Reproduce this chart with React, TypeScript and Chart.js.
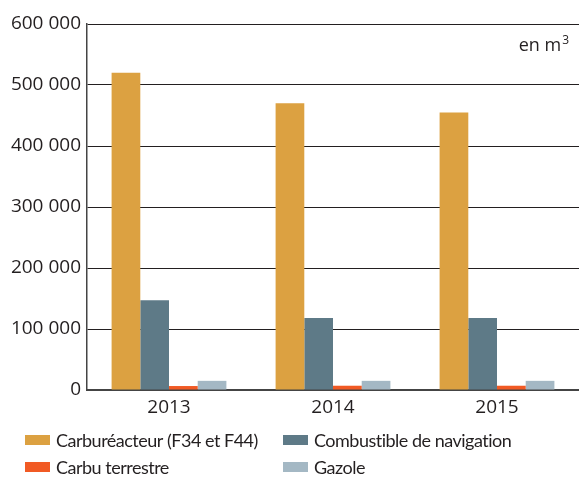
import React, { useEffect, useRef } from "react";
import { Chart, registerables } from "chart.js";

Chart.register(...registerables);

const categories = ["2013", "2014", "2015"];
const carbureacteur = [520000, 470000, 455000];
const combustible = [147000, 118000, 118000];
const carbuTerrestre = [6500, 7000, 7000];
const gazole = [15000, 15000, 15000];
const seriesLabels = [
  "Carburéacteur (F34 et F44)",
  "Combustible de navigation",
  "Carbu terrestre",
  "Gazole",
];
const seriesColors = ["#dca141", "#5e7a87", "#f15a24", "#a4b8c4"];
const unitLabel = "en m";
const unitSup = "3";

const FONT = '"Open Sans", "Noto Sans", sans-serif';
const LEGEND_FONT = 'Lato, "Open Sans", sans-serif';
const TEXT = "#231f20";

const fmt = (v: number) =>
  String(Math.round(v)).replace(/\B(?=(\d{3})+(?!\d))/g, " ");

const gridLegend = {
  id: "gridLegend",
  afterDraw(chart: any) {
    const ctx = chart.ctx;
    const cols = [25, 283];
    const rows = [440, 467];
    ctx.save();
    chart.data.datasets.forEach((ds: any, i: number) => {
      const x = cols[i % 2];
      const y = rows[Math.floor(i / 2)];
      ctx.fillStyle = ds.backgroundColor;
      ctx.fillRect(x, y - 5, 25, 10);
      ctx.fillStyle = TEXT;
      ctx.font = `18px ${LEGEND_FONT}`;
      try {
        (ctx as any).letterSpacing = "-0.5px";
      } catch (e) {}
      ctx.textBaseline = "middle";
      ctx.textAlign = "left";
      ctx.fillText(ds.label, x + 31, y + 1);
      try {
        (ctx as any).letterSpacing = "0px";
      } catch (e) {}
    });
    // unit label
    const right = chart.chartArea.right - 10;
    ctx.font = `12px ${FONT}`;
    const supW = ctx.measureText(unitSup).width;
    ctx.textBaseline = "alphabetic";
    ctx.fillText(unitSup, right - supW, 44);
    ctx.font = `18px ${FONT}`;
    const w = ctx.measureText(unitLabel).width;
    ctx.fillText(unitLabel, right - supW - 1 - w, 51);
    ctx.restore();
  },
};

export default function App() {
  const ref = useRef<HTMLCanvasElement>(null);
  useEffect(() => {
    document.body.style.margin = "0";
    const values = [carbureacteur, combustible, carbuTerrestre, gazole];
    const chart = new Chart(ref.current!, {
      type: "bar",
      data: {
        labels: categories,
        datasets: values.map((d, i) => ({
          label: seriesLabels[i],
          data: d,
          backgroundColor: seriesColors[i],
          borderWidth: 0,
          barPercentage: 1,
          categoryPercentage: 0.7,
        })),
      },
      options: {
        responsive: false,
        animation: false,
        devicePixelRatio: 1,
        layout: { padding: { top: 24, right: 0, bottom: 0, left: 0 } },
        plugins: { legend: { display: false }, tooltip: { enabled: false } },
        scales: {
          x: {
            grid: { display: false, drawTicks: false },
            border: { display: true, color: "#444", width: 2 },
            ticks: {
              color: TEXT,
              font: { family: FONT, size: 19 },
              padding: 6,
            },
            afterFit: (s: any) => {
              s.height = 87;
            },
          },
          y: {
            min: 0,
            max: 600000,
            ticks: {
              stepSize: 100000,
              color: TEXT,
              font: { family: FONT, size: 19 },
              padding: 6,
              callback: (v: any) => fmt(Number(v)),
            },
            grid: { color: "#231f20", lineWidth: 1, drawTicks: false },
            border: { display: true, color: "#444", width: 1.5 },
            afterFit: (s: any) => {
              s.width = 87;
            },
          },
        },
      },
      plugins: [gridLegend],
    });
    return () => chart.destroy();
  }, []);
  return <canvas ref={ref} width={579} height={477} style={{ display: "block", width: 579, height: 477 }} />;
}
